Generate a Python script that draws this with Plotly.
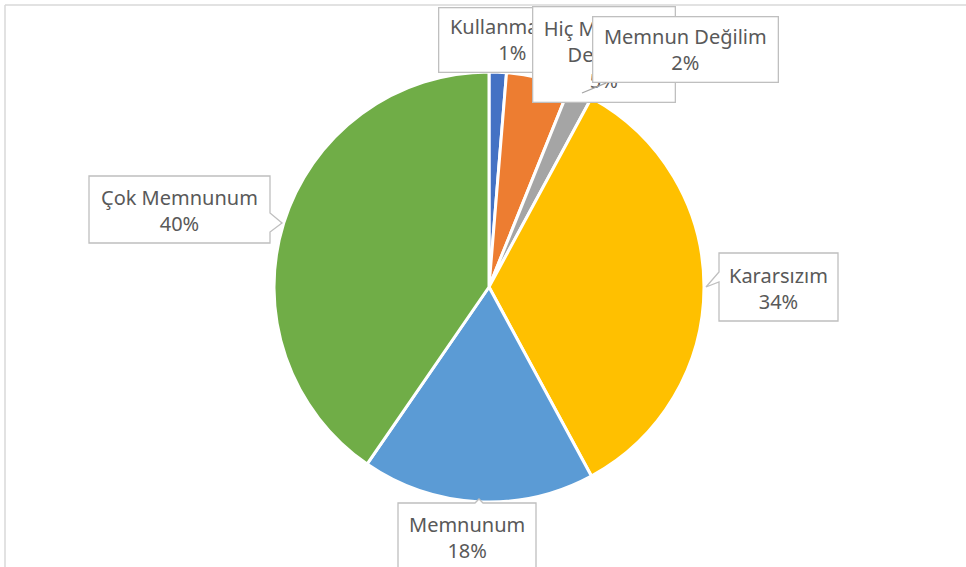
import plotly.graph_objects as go

W, H = 966, 567

categories = ["Kullanmadım", "Hiç Memnun Değilim", "Memnun Değilim", "Kararsızım", "Memnunum", "Çok Memnunum"]
values = [1.3, 4.8, 1.8, 34.2, 17.5, 40.4]
colors = ["#4472C4", "#ED7D31", "#A5A5A5", "#FFC000", "#5B9BD5", "#70AD47"]
label_text = ["Kullanmadım", "Hiç Memnun<br>Değilim", "Memnun Değilim", "Kararsızım", "Memnunum", "Çok Memnunum"]

FONT = "Noto Sans"
FS = 20
TXT = "#595959"
BOX = "#BFBFBF"

total = sum(values)
pct = [f"{round(v / total * 100)}%" for v in values]


def px(x):
    return x / W


def py(y):
    return 1 - y / H


def path(points):
    s = "M " + " L ".join(f"{px(x):.5f} {py(y):.5f}" for x, y in points) + " Z"
    return s


fig = go.Figure(go.Pie(
    labels=categories, values=values, sort=False, direction="clockwise", rotation=0,
    marker=dict(colors=colors, line=dict(color="white", width=3)),
    textinfo="none", hoverinfo="label+percent", showlegend=False,
    domain=dict(x=[px(274), px(704)], y=[py(502), py(72)]),
))

shapes = []
# chart area border (top and left visible)
shapes.append(dict(type="line", xref="paper", yref="paper", x0=px(5), y0=py(5), x1=px(970), y1=py(5),
                   line=dict(color="#D9D9D9", width=1.5)))
shapes.append(dict(type="line", xref="paper", yref="paper", x0=px(5), y0=py(5), x1=px(5), y1=py(570),
                   line=dict(color="#D9D9D9", width=1.5)))

# callout boxes with pointers
callouts = [
    # Çok Memnunum: box 89-270 x 176-243, pointer to right
    [(89, 176), (270, 176), (270, 213), (282, 223), (270, 232), (270, 243), (89, 243)],
    # Kararsızım: box 719-838 x 253-321, pointer to left
    [(719, 253), (838, 253), (838, 321), (719, 321), (719, 282), (706, 287), (719, 272)],
    # Memnunum: box 398-536, top 502
    [(398, 503), (475, 503), (479, 499), (483, 503), (536, 503), (536, 580), (398, 580)],
]
for pts in callouts:
    shapes.append(dict(type="path", xref="paper", yref="paper", path=path(pts),
                       fillcolor="white", line=dict(color=BOX, width=1.3), layer="above"))

annotations = []


def plain(i, cx, cy):
    annotations.append(dict(xref="paper", yref="paper", x=px(cx), y=py(cy), xanchor="center", yanchor="middle",
                            text=f"{label_text[i]}<br>{pct[i]}", showarrow=False,
                            font=dict(family=FONT, size=FS, color=TXT), align="center"))


plain(5, 179, 210)
plain(3, 778, 288)
plain(4, 467, 537)


def boxed(i, x0, x1, y0, y1, arrow=None):
    cx, cy = (x0 + x1) / 2, (y0 + y1) / 2
    a = dict(xref="paper", yref="paper", xanchor="center", yanchor="middle",
             text=f"{label_text[i]}<br>{pct[i]}",
             font=dict(family=FONT, size=FS, color=TXT), align="center", valign="middle",
             width=x1 - x0 - 2, height=y1 - y0 - 2, bgcolor="white", bordercolor=BOX,
             borderwidth=1.3, borderpad=0)
    if arrow is None:
        a.update(x=px(cx), y=py(cy), showarrow=False)
    else:
        tx, ty = arrow
        a.update(x=px(tx), y=py(ty), showarrow=True, arrowhead=0, arrowwidth=1.3, arrowcolor="#A6A6A6",
                 ax=cx - tx, ay=cy - ty, axref="pixel", ayref="pixel")
    annotations.append(a)


boxed(0, 438, 586, 7, 72)
boxed(1, 532, 675, 6, 102)
boxed(2, 592, 778, 17, 83, arrow=(582, 93))

fig.update_layout(
    width=W, height=H, margin=dict(l=0, r=0, t=0, b=0),
    paper_bgcolor="white", plot_bgcolor="white",
    shapes=shapes, annotations=annotations,
)

fig.write_html("out.html", config={"displayModeBar": False},
               post_script="document.body.style.margin='0';")
